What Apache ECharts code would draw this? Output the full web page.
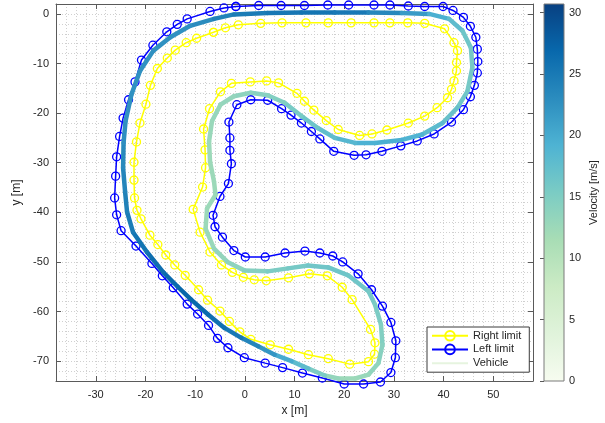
<!DOCTYPE html>
<html><head><meta charset="utf-8">
<script src="https://cdn.jsdelivr.net/npm/echarts@6/dist/echarts.min.js"></script>
<style>html,body{margin:0;padding:0;background:#fff}#c{width:605px;height:423px}</style>
</head><body><div id="c"></div>
<script>
// ---------- data ----------
const xRange = [-38, 58];
const yRange = [-74, 2];
const velRange = [0, 30.7];
const xTickLabels = [-30, -20, -10, 0, 10, 20, 30, 40, 50];
const yTickLabels = [0, -10, -20, -30, -40, -50, -60, -70];
const velTickLabels = [0, 5, 10, 15, 20, 25, 30];

const leftX = [-1.8,2.8,7.3,12.0,16.7,20.9,26.0,29.2,32.9,36.2,39.9,41.9,44.0,45.4,46.5,46.8,46.9,46.8,46.2,45.4,44.0,41.6,38.1,34.7,31.4,27.6,24.4,22.0,17.9,15.1,13.4,11.4,9.3,7.4,4.6,1.2,-1.6,-3.2,-3.0,-3.0,-2.7,-3.3,-5.0,-6.4,-6.0,-4.5,-2.2,0.1,4.1,8.1,12.1,15.1,17.7,19.7,22.8,25.5,27.7,29.4,30.4,30.3,29.4,27.3,23.9,20.0,15.6,11.6,7.6,4.1,-0.1,-3.4,-5.5,-7.3,-9.5,-11.6,-14.4,-16.6,-18.7,-21.9,-24.9,-25.8,-26.2,-26.0,-25.8,-25.2,-24.5,-23.4,-22.1,-20.8,-18.5,-15.7,-13.6,-11.6,-7.0,-4.2,-1.8];
const leftY = [1.5,1.7,1.7,1.7,1.8,1.8,1.8,1.8,1.6,1.5,1.5,0.7,-0.7,-2.5,-4.7,-7.1,-9.6,-11.9,-14.4,-16.7,-19.3,-21.8,-24.2,-25.6,-26.6,-27.7,-28.4,-28.5,-27.7,-25.2,-23.7,-22.0,-20.4,-19.1,-17.4,-17.3,-18.3,-21.8,-25.0,-27.5,-30.2,-34.2,-36.8,-40.6,-42.9,-45.0,-47.7,-49.0,-49.0,-48.2,-47.8,-48.2,-48.8,-50.0,-52.4,-55.6,-58.9,-62.2,-65.9,-69.3,-72.3,-74.2,-74.6,-74.6,-73.4,-72.4,-71.3,-70.4,-69.3,-67.3,-65.4,-62.8,-60.5,-58.5,-55.2,-52.8,-50.3,-46.8,-43.7,-40.5,-37.1,-32.7,-28.8,-24.7,-21.0,-17.3,-13.7,-9.3,-6.3,-3.6,-2.1,-1.0,0.5,1.2,1.5];

const rightX = [-6.3,-3.9,-1.3,3.2,7.5,12.3,16.8,21.4,26.0,29.2,32.8,36.2,40.2,42.1,42.8,42.6,42.6,42.1,41.6,40.8,38.7,36.2,32.9,28.6,25.6,23.1,18.8,16.4,13.9,12.0,10.5,6.8,4.4,1.1,-2.7,-4.9,-7.1,-8.3,-8.0,-7.9,-8.5,-10.4,-9.0,-7.0,-4.7,-2.5,-0.3,1.9,4.3,8.8,13.0,16.6,19.6,21.6,25.3,26.2,26.1,24.9,21.1,16.8,12.8,8.8,5.1,1.2,-1.0,-3.1,-5.0,-7.5,-9.3,-12.0,-14.1,-15.9,-17.5,-19.1,-20.9,-21.7,-22.2,-22.3,-22.3,-21.8,-21.1,-19.9,-19.0,-17.6,-15.6,-14.0,-11.8,-9.7,-6.3];
const rightY = [-3.7,-2.8,-2.2,-1.9,-1.8,-1.8,-1.8,-1.8,-1.8,-1.8,-1.8,-1.9,-3.0,-5.8,-7.4,-9.8,-11.5,-13.5,-15.2,-16.9,-18.9,-20.6,-22.0,-23.4,-24.2,-24.5,-23.3,-21.5,-19.4,-17.6,-16.0,-13.9,-13.5,-13.7,-14.0,-15.7,-19.1,-23.2,-27.4,-31.0,-34.9,-39.4,-44.0,-48.0,-50.6,-52.1,-53.1,-53.6,-53.8,-53.2,-52.4,-52.8,-55.1,-57.6,-63.6,-66.3,-68.6,-70.1,-70.6,-69.5,-68.7,-67.6,-66.7,-65.6,-64.1,-62.0,-59.9,-57.7,-55.6,-52.7,-50.6,-48.6,-46.5,-44.6,-41.3,-39.6,-37.1,-33.5,-29.9,-25.8,-22.0,-18.2,-14.4,-11.0,-8.9,-7.3,-5.8,-4.9,-3.7];

const vehX = [-11.0,-6.2,-2.2,4.6,11.4,18.1,24.9,31.6,37.1,41.1,43.8,45.5,45.8,44.8,42.8,39.8,35.7,31.6,26.2,22.2,18.1,14.7,11.4,8.0,4.6,1.2,-2.2,-4.9,-6.6,-7.2,-7.0,-6.2,-5.9,-7.6,-7.9,-6.2,-3.5,-0.1,4.6,8.7,12.7,16.8,20.8,24.9,26.2,27.4,27.7,26.9,24.9,22.2,18.8,16.1,12.8,9.4,6.0,2.7,-0.7,-4.1,-7.4,-10.8,-13.5,-16.4,-19.7,-22.5,-23.7,-24.1,-24.5,-24.4,-24.0,-22.8,-21.1,-18.4,-15.0,-11.0];
const vehY = [-2.4,-1.0,-0.1,0.2,0.3,0.3,0.3,0.2,0.0,-1.0,-3.4,-6.8,-10.8,-15.6,-18.9,-22.0,-24.3,-25.4,-26.0,-26.0,-25.0,-23.0,-20.6,-17.9,-16.4,-15.9,-16.6,-18.3,-21.6,-25.7,-29.8,-33.8,-36.5,-39.2,-43.3,-47.3,-50.0,-51.7,-51.9,-51.3,-50.7,-51.1,-52.7,-55.9,-58.6,-62.6,-66.7,-70.4,-72.7,-73.5,-73.5,-72.9,-71.5,-70.0,-68.7,-67.0,-65.3,-63.3,-60.6,-57.6,-55.0,-52.1,-48.0,-44.0,-39.9,-35.8,-31.0,-26.0,-21.6,-16.2,-11.5,-7.4,-4.7,-2.4];
const vehV = [22.5,23.5,24.5,25,25.5,25.5,24.5,22.5,20.5,18.5,17,16,15.5,16,16.5,17.5,18.5,19.5,19.5,19,18,17,16,15,14.5,14,13.5,13,13,12.5,12.5,12.5,12.5,12.5,12.5,13,13.5,14,15,15.5,16,16.5,16.5,16,15.5,15,14.5,14,13,12.5,12.5,14,16.5,19,21,23,24.5,25.5,26.5,27,27,26.5,26,25,24.5,24,23.5,23,22.5,22.5,22.5,22.5,22.5,22.5];

const GnBu = ['#f7fcf0','#e0f3db','#ccebc5','#a8ddb5','#7bccc4','#4eb3d3','#2b8cbe','#0868ac','#084081'];

// ---------- build ----------
const zip = (a, b) => a.map((v, i) => [v, b[i]]);
const vehSegs = [];
for (let i = 0; i < vehX.length - 1; i++) {
  vehSegs.push([vehX[i], vehY[i], vehX[i + 1], vehY[i + 1], (vehV[i] + vehV[i + 1]) / 2]);
}

const FONT = "'Liberation Sans', Arial, Helvetica, sans-serif";
const TXT = '#262626';
const AX = '#5a5a5a';
const G = { left: 56, top: 4, width: 477, height: 377 };

const chart = echarts.init(document.getElementById('c'), null, { renderer: 'canvas' });

const mainAxisCommon = {
  type: 'value',
  axisLine: { show: true, onZero: false, lineStyle: { color: AX, width: 1 } },
  axisTick: { show: true, inside: true, length: 5, lineStyle: { color: AX, width: 1 } },
  splitLine: { show: false },
  axisLabel: { show: false }
};
const gridLineStyle = { color: '#d0d0d0', width: 1, type: [1, 2] };

chart.setOption({
  animation: false,
  backgroundColor: '#fff',
  textStyle: { fontFamily: FONT },
  grid: [
    Object.assign({ containLabel: false }, G),
    { left: 544, top: 4, width: 20, height: 377, containLabel: false },
    Object.assign({ containLabel: false }, G)
  ],
  xAxis: [
    Object.assign({}, mainAxisCommon, {
      gridIndex: 0, position: 'bottom', min: xRange[0], max: xRange[1], splitNumber: 10,
      axisLabel: { show: true, color: TXT, fontSize: 11, margin: 8, showMinLabel: false, showMaxLabel: false,
        formatter: v => (xTickLabels.indexOf(v) >= 0 ? String(v) : '') },
      name: 'x [m]', nameLocation: 'middle', nameGap: 23,
      nameTextStyle: { color: TXT, fontSize: 12 }
    }),
    Object.assign({}, mainAxisCommon, {
      gridIndex: 0, position: 'top', min: xRange[0], max: xRange[1], splitNumber: 10
    }),
    { type: 'value', gridIndex: 1, min: 0, max: 1, show: false },
    { type: 'value', gridIndex: 2, position: 'bottom', min: xRange[0], max: xRange[1], interval: 2,
      axisLine: { show: false }, axisTick: { show: false }, axisLabel: { show: false },
      splitLine: { show: true, lineStyle: gridLineStyle } }
  ],
  yAxis: [
    Object.assign({}, mainAxisCommon, {
      gridIndex: 0, position: 'left', min: yRange[0], max: yRange[1], splitNumber: 10,
      axisLabel: { show: true, color: TXT, fontSize: 11, margin: 7, showMinLabel: false, showMaxLabel: false,
        formatter: v => (yTickLabels.indexOf(v) >= 0 ? String(v) : '') },
      name: 'y [m]', nameLocation: 'middle', nameGap: 31, nameRotate: 90,
      nameTextStyle: { color: TXT, fontSize: 12 }
    }),
    Object.assign({}, mainAxisCommon, {
      gridIndex: 0, position: 'right', min: yRange[0], max: yRange[1], splitNumber: 10
    }),
    { type: 'value', gridIndex: 1, position: 'right', min: velRange[0], max: velRange[1], interval: 5,
      axisLine: { show: false },
      axisTick: { show: true, inside: true, length: 4, lineStyle: { color: AX } },
      axisLabel: { show: true, color: TXT, fontSize: 11, margin: 5, showMaxLabel: false,
        formatter: v => (velTickLabels.indexOf(v) >= 0 ? String(v) : '') },
      splitLine: { show: false },
      name: 'Velocity [m/s]', nameLocation: 'middle', nameGap: 24, nameRotate: 90,
      nameTextStyle: { color: TXT, fontSize: 11 } },
    { type: 'value', gridIndex: 2, position: 'left', min: yRange[0], max: yRange[1], interval: 2,
      axisLine: { show: false }, axisTick: { show: false }, axisLabel: { show: false },
      splitLine: { show: true, lineStyle: gridLineStyle } }
  ],
  visualMap: {
    show: false, type: 'continuous', seriesIndex: 2, dimension: 4,
    min: velRange[0], max: velRange[1], inRange: { color: GnBu }
  },
  legend: {
    left: 427, top: 327, orient: 'vertical',
    padding: [3, 8, 3, 4], itemGap: 2, itemWidth: 36, itemHeight: 12,
    backgroundColor: '#fff', borderColor: '#3a3a3a', borderWidth: 1, borderRadius: 0,
    textStyle: { color: TXT, fontSize: 11, fontFamily: FONT },
    data: [
      { name: 'Right limit' },
      { name: 'Left limit' },
      { name: 'Vehicle', icon: 'path://M0,0M0,5L36,5L36,7L0,7ZM36,12', itemStyle: { color: '#e6f4df' } }
    ]
  },
  series: [
    {
      name: 'Right limit', type: 'line', xAxisIndex: 0, yAxisIndex: 0,
      data: zip(rightX, rightY), clip: false,
      symbol: 'circle', symbolSize: 8,
      itemStyle: { color: 'rgba(255,255,255,0)', borderColor: '#ffff00', borderWidth: 1.3 },
      lineStyle: { color: '#ffff00', width: 1.5 },
      z: 3
    },
    {
      name: 'Left limit', type: 'line', xAxisIndex: 0, yAxisIndex: 0,
      data: zip(leftX, leftY), clip: false,
      symbol: 'circle', symbolSize: 8,
      itemStyle: { color: 'rgba(255,255,255,0)', borderColor: '#0000ff', borderWidth: 1.3 },
      lineStyle: { color: '#0000ff', width: 1.5 },
      z: 3
    },
    {
      name: 'Vehicle', type: 'custom', xAxisIndex: 0, yAxisIndex: 0,
      coordinateSystem: 'cartesian2d',
      dimensions: ['x1', 'y1', 'x2', 'y2', 'v'],
      encode: { x: [0, 2], y: [1, 3] },
      data: vehSegs, clip: false,
      itemStyle: { color: '#e6f4df' },
      renderItem: function (params, api) {
        const p1 = api.coord([api.value(0), api.value(1)]);
        const p2 = api.coord([api.value(2), api.value(3)]);
        return {
          type: 'line',
          shape: { x1: p1[0], y1: p1[1], x2: p2[0], y2: p2[1] },
          style: { stroke: api.visual('color'), lineWidth: 4.5, lineCap: 'round' }
        };
      },
      z: 4
    },
    {
      name: 'colorbar', type: 'custom', xAxisIndex: 2, yAxisIndex: 2,
      coordinateSystem: 'cartesian2d',
      data: [[0, velRange[0], 1, velRange[1]]],
      encode: { x: [0, 2], y: [1, 3] },
      renderItem: function (params, api) {
        const p1 = api.coord([api.value(0), api.value(1)]);
        const p2 = api.coord([api.value(2), api.value(3)]);
        const stops = GnBu.map((c, i) => ({ offset: i / (GnBu.length - 1), color: c }));
        return {
          type: 'rect',
          shape: { x: p1[0], y: p2[1], width: p2[0] - p1[0], height: p1[1] - p2[1] },
          style: { fill: new echarts.graphic.LinearGradient(0, 1, 0, 0, stops), stroke: '#7a7a7a', lineWidth: 1 }
        };
      },
      silent: true
    }
  ]
});
</script>
</body></html>
